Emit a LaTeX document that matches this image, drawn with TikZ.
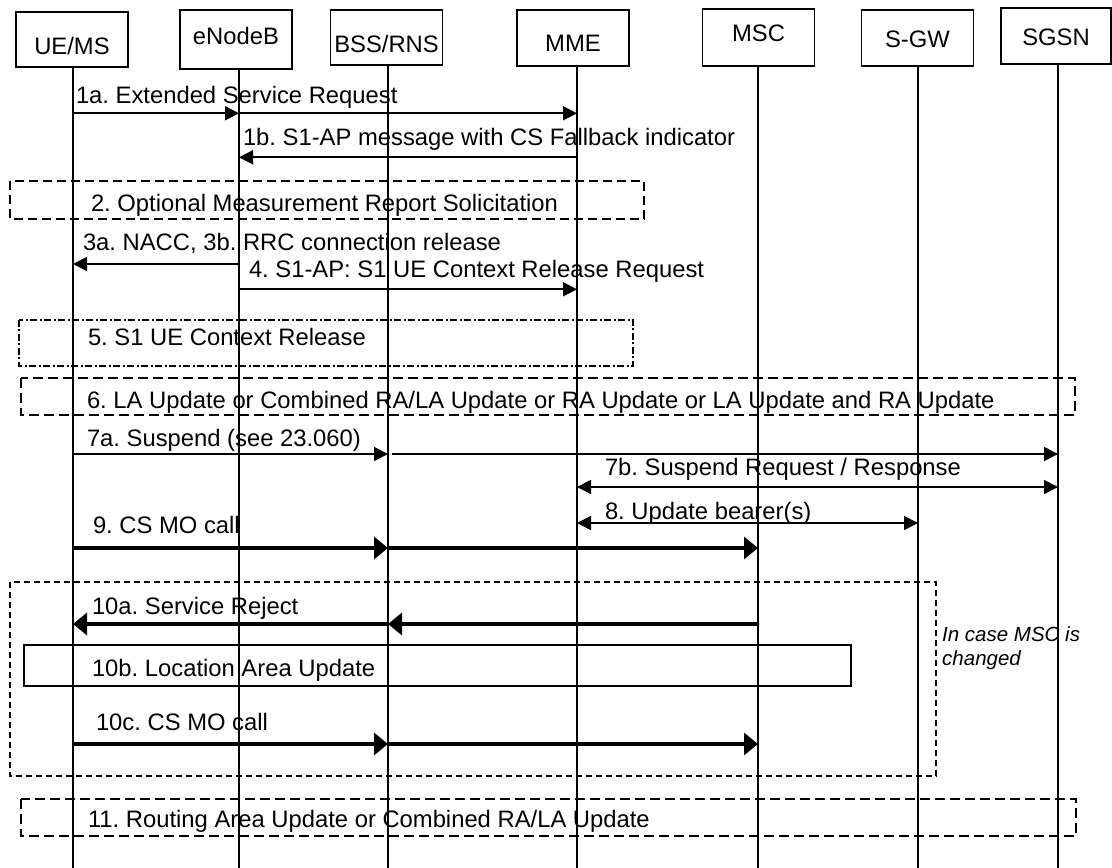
\documentclass[tikz,border=0pt]{standalone}
\usepackage{fontspec}
\setmainfont{Liberation Sans}
\usepackage{xcolor}
\usepackage{tikz}
\usetikzlibrary{arrows.meta}
\tikzset{msg/.style = {line width=1.7pt, -{Triangle[length=14pt,width=14pt]}}}
\tikzset{dmsg/.style = {line width=1.7pt, {Triangle[length=14pt,width=14pt]}-{Triangle[length=14pt,width=14pt]}}}
\tikzset{call/.style = {line width=3.2pt, -{Triangle[length=14pt,width=22pt]}}}
\tikzset{life/.style = {line width=1.8pt}}
\tikzset{hdr/.style 2 args = {draw, line width=1.8pt, anchor=base, inner sep=0pt, minimum width=112pt,
  text height=#1, text depth=#2, font=\fontsize{23.8}{28}\selectfont}}
\tikzset{lbl/.style = {anchor=base west, inner sep=0pt, outer sep=0pt, font=\fontsize{23.8}{28}\selectfont}}
\frenchspacing

\begin{document}
\begin{tikzpicture}[x=1pt,y=1pt]
\definecolor{fillColor}{RGB}{255,255,255}
\definecolor{drawColor}{RGB}{0,0,0}
\path[use as bounding box,fill=fillColor] (0,0) rectangle (1112,868);
\begin{scope}
\path[clip] (0,0) rectangle (1112,868);

% entities
\node[hdr={42.3pt}{12.7pt}, text=drawColor] (uems) at (  72.0,813.7) {UE/MS};
\node[hdr={34.6pt}{24.4pt}, text=drawColor] (enodeb) at ( 236.0,823.4) {eNodeB};
\node[hdr={43.0pt}{12.0pt}, text=drawColor] (bssrns) at ( 386.5,815.0) {BSS/RNS};
\node[hdr={41.8pt}{14.2pt}, text=drawColor] (mme) at ( 573.0,816.2) {MME};
\node[hdr={32.7pt}{24.3pt}, text=drawColor] (msc) at ( 758.5,826.3) {MSC};
\node[hdr={37.3pt}{18.7pt}, text=drawColor] (sgw) at ( 917.5,820.7) {S-GW};
\node[hdr={38.0pt}{18.0pt}, minimum width=110pt, text=drawColor] (sgsn) at (1056.0,822.0) {SGSN};

% lifelines
\coordinate (uems-x) at (  73,0);
\coordinate (enodeb-x) at ( 239,0);
\coordinate (bssrns-x) at ( 388,0);
\coordinate (mme-x) at ( 577,0);
\coordinate (msc-x) at ( 758,0);
\coordinate (sgw-x) at ( 918,0);
\coordinate (sgsn-x) at (1058,0);

\draw[life] (uems-x |- uems.south) -- (uems-x);
\draw[life] (enodeb-x |- enodeb.south) -- (enodeb-x);
\draw[life] (bssrns-x |- bssrns.south) -- (bssrns-x);
\draw[life] (mme-x |- mme.south) -- (mme-x);
\draw[life] (msc-x |- msc.south) -- (msc-x);
\draw[life] (sgw-x |- sgw.south) -- (sgw-x);
\draw[life] (sgsn-x |- sgsn.south) -- (sgsn-x);

% message rows
\coordinate (r1a) at (0,754.7);
\coordinate (r1b) at (0,710.7);
\coordinate (r3a) at (0,604.0);
\coordinate (r4) at (0,578.7);
\coordinate (r7a) at (0,414.0);
\coordinate (r7b) at (0,381.0);
\coordinate (r8) at (0,345.0);
\coordinate (r9) at (0,320.0);
\coordinate (r10a) at (0,244.0);
\coordinate (r10c) at (0,124.0);

% procedure boxes
\draw[line width=1.7pt, dash pattern=on 9pt off 5pt] ( 10,687) rectangle ( 644,649);
\draw[line width=2.4pt, dash pattern=on 7pt off 2.5pt on 2pt off 2.5pt] ( 19,548) rectangle ( 633,502);
\draw[line width=2.0pt, dash pattern=on 10pt off 5pt] ( 21,490) rectangle (1075,453);
\draw[line width=1.3pt, dash pattern=on 6pt off 4pt] ( 10,286) rectangle ( 936, 92);
\draw[line width=1.7pt] ( 24,223) rectangle ( 851,182);
\draw[line width=2.0pt, dash pattern=on 10pt off 5pt] ( 21, 69) rectangle (1076, 32);

% messages
\draw[msg] (uems-x |- r1a) -- (enodeb-x |- r1a);
\draw[msg] (enodeb-x |- r1a) -- (mme-x |- r1a);
\draw[msg] (mme-x |- r1b) -- (enodeb-x |- r1b);
\draw[msg] (enodeb-x |- r3a) -- (uems-x |- r3a);
\draw[msg] (enodeb-x |- r4) -- (mme-x |- r4);
\draw[msg] (uems-x |- r7a) -- (bssrns-x |- r7a);
\draw[msg, shorten <=4pt] (bssrns-x |- r7a) -- (sgsn-x |- r7a);
\draw[dmsg] (mme-x |- r7b) -- (sgsn-x |- r7b);
\draw[dmsg] (mme-x |- r8) -- (sgw-x |- r8);
\draw[call] (uems-x |- r9) -- (bssrns-x |- r9);
\draw[call] (bssrns-x |- r9) -- (msc-x |- r9);
\draw[call] (msc-x |- r10a) -- (bssrns-x |- r10a);
\draw[call] (bssrns-x |- r10a) -- (uems-x |- r10a);
\draw[call] (uems-x |- r10c) -- (bssrns-x |- r10c);
\draw[call] (bssrns-x |- r10c) -- (msc-x |- r10c);

% labels
\node[lbl] (l1a) at ( 76,764.7) {1a. Extended Service Request};
\node[lbl] (l1b) at (243,722.0) {1b. S1-AP message with CS Fallback indicator};
\node[lbl] (l2) at ( 91,656.3) {2. Optional Measurement Report Solicitation};
\node[lbl] (l3a) at ( 83,617.3) {3a. NACC, 3b. RRC connection release};
\node[lbl] (l4) at (249,590.7) {4. S1-AP: S1 UE Context Release Request};
\node[lbl] (l5) at ( 88,522.3) {5. S1 UE Context Release};
\node[lbl] (l6) at ( 87,459.7) {6. LA Update or Combined RA/LA Update or RA Update or LA Update and RA Update};
\node[lbl] (l7a) at ( 87,421.5) {7a. Suspend (see 23.060)};
\node[lbl] (l7b) at (605,392.0) {7b. Suspend Request / Response};
\node[lbl] (l8) at (605,348.0) {8. Update bearer(s)};
\node[lbl] (l9) at ( 93,334.0) {9. CS MO call};
\node[lbl] (l10a) at ( 92,253.0) {10a. Service Reject};
\node[lbl] (l10b) at ( 92,191.0) {10b. Location Area Update};
\node[lbl] (l10c) at ( 96,137.3) {10c. CS MO call};
\node[lbl] (l11) at ( 88, 40.0) {11. Routing Area Update or Combined RA/LA Update};
\node[anchor=north west, inner sep=0pt, align=left, font=\fontsize{20.5}{24.3}\selectfont\itshape] (note) at (942,242.0) {In case MSC is\\changed};
\end{scope}
\end{tikzpicture}
\end{document}
